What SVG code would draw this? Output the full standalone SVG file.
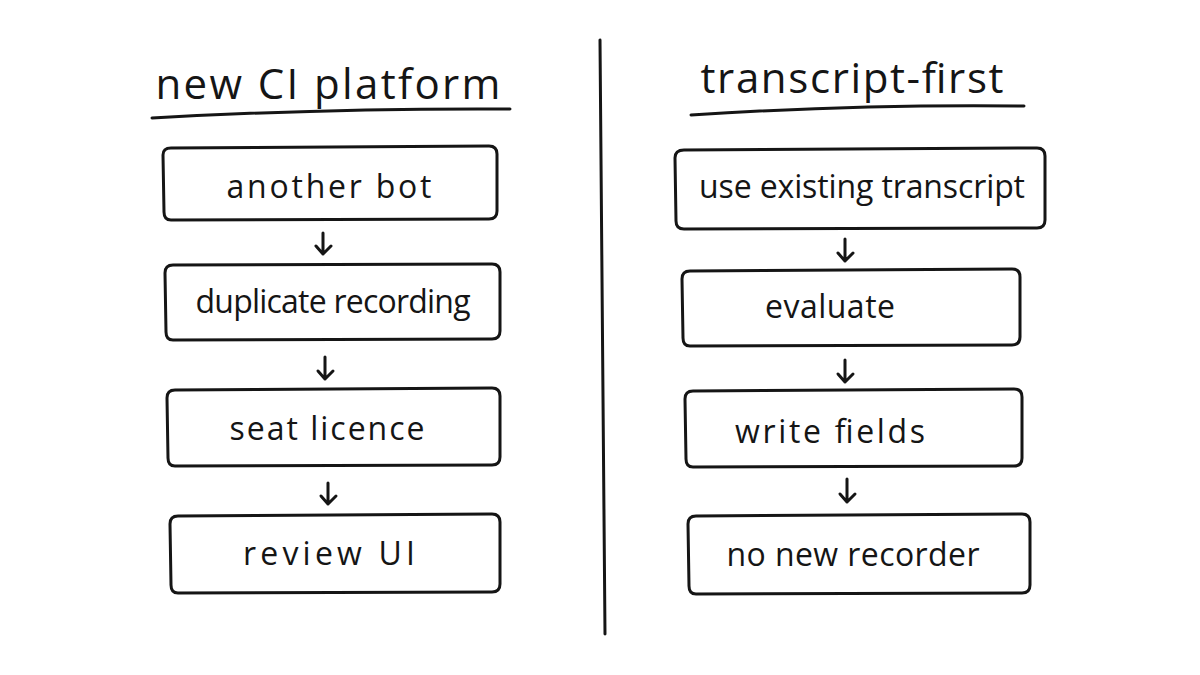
<svg xmlns="http://www.w3.org/2000/svg" width="1200" height="675" viewBox="0 0 1200 675">
<style>
.bx{fill:none;stroke:#151515;stroke-width:3;stroke-linejoin:round;stroke-linecap:round}
.ln{fill:none;stroke:#151515;stroke-width:3;stroke-linecap:round;stroke-linejoin:round}
.t{font-family:"Open Sans","Liberation Sans",sans-serif;font-size:32px;fill:#151515;text-anchor:middle}
.h{font-family:"Open Sans","Liberation Sans",sans-serif;font-size:42px;fill:#151515;text-anchor:middle}
</style>
<rect width="1200" height="675" fill="#ffffff"/>
<g id="divider"><path class="ln" d="M600,40 Q602,320 605,634"/></g>
<g id="title-left">
<text class="h" x="328" y="99" textLength="345" lengthAdjust="spacing">new CI platform</text>
<path class="ln" d="M152,118 Q330,108 510,109"/>
</g>
<g id="title-right">
<text class="h" x="852" y="93" textLength="303" lengthAdjust="spacing">transcript-first</text>
<path class="ln" d="M691,115 Q860,104 1024,106"/>
</g>
<g id="node-another-bot">
<path class="bx" d="M171,148 L489,146 Q497,146 497,154 L497,211 Q497,219 489,219 L171,220 Q164,220 164,212 L163,155 Q163,148 171,148 Z"/>
<text class="t" x="329" y="198" textLength="205" lengthAdjust="spacing">another bot</text>
</g>
<g id="node-duplicate-recording">
<path class="bx" d="M173,265 L492,264 Q500,264 500,272 L500,331 Q500,339 492,339 L173,340 Q166,340 166,332 L165,273 Q165,265 173,265 Z"/>
<text class="t" x="333" y="313" textLength="275" lengthAdjust="spacing">duplicate recording</text>
</g>
<g id="node-seat-licence">
<path class="bx" d="M175,390 L492,388 Q500,388 500,396 L500,457 Q500,465 492,465 L175,466 Q168,466 168,458 L167,398 Q167,390 175,390 Z"/>
<text class="t" x="327" y="440" textLength="195" lengthAdjust="spacing">seat licence</text>
</g>
<g id="node-review-ui">
<path class="bx" d="M178,516 L492,514 Q500,514 500,522 L500,584 Q500,592 492,592 L178,593 Q171,593 171,585 L170,524 Q170,516 178,516 Z"/>
<text class="t" x="329" y="565" textLength="172" lengthAdjust="spacing">review UI</text>
</g>
<g id="node-use-existing-transcript">
<path class="bx" d="M684,150 L1037,148 Q1045,148 1045,156 L1045,220 Q1045,228 1037,228 L684,229 Q676,229 676,221 L675,158 Q675,150 684,150 Z"/>
<text class="t" x="862" y="198" textLength="326" lengthAdjust="spacing">use existing transcript</text>
</g>
<g id="node-evaluate">
<path class="bx" d="M690,271 L1012,269 Q1020,269 1020,277 L1020,337 Q1020,345 1012,345 L690,346 Q683,346 683,338 L682,279 Q682,271 690,271 Z"/>
<text class="t" x="830" y="318" textLength="130" lengthAdjust="spacing">evaluate</text>
</g>
<g id="node-write-fields">
<path class="bx" d="M693,391 L1014,389 Q1022,389 1022,397 L1022,458 Q1022,466 1014,466 L693,467 Q686,467 686,459 L685,399 Q685,391 693,391 Z"/>
<text class="t" x="830" y="443" textLength="190" lengthAdjust="spacing">write fields</text>
</g>
<g id="node-no-new-recorder">
<path class="bx" d="M696,516 L1022,514 Q1030,514 1030,522 L1030,585 Q1030,593 1022,593 L696,594 Q689,594 689,586 L688,524 Q688,516 696,516 Z"/>
<text class="t" x="853" y="566" textLength="253" lengthAdjust="spacing">no new recorder</text>
</g>
<g id="connectors">
<path class="ln" d="M323,233 L323,254 M316,246 L323,254 L331,246"/>
<path class="ln" d="M325,357 L325,379 M318,371 L325,379 L333,371"/>
<path class="ln" d="M328,483 L328,504 M321,496 L328,504 L336,496"/>
<path class="ln" d="M845,239 L845,261 M838,253 L845,261 L853,253"/>
<path class="ln" d="M845,360 L845,382 M838,374 L845,382 L853,374"/>
<path class="ln" d="M847,479 L847,502 M840,494 L847,502 L855,494"/>
</g>
</svg>
